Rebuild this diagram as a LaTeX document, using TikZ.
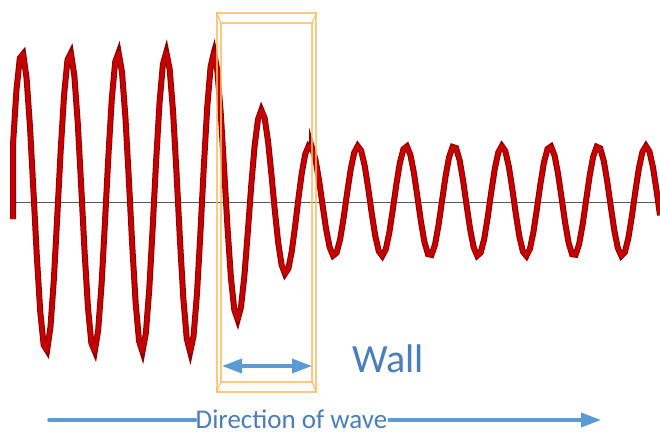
\documentclass[tikz,border=0pt]{standalone}
\usepackage{fontspec}
\setmainfont{Carlito}
\usetikzlibrary{arrows.meta}
\definecolor{wavered}{RGB}{200,0,0}
\definecolor{waveedge}{RGB}{140,0,0}
\definecolor{wallorange}{RGB}{251,188,98}
\definecolor{arrowblue}{RGB}{91,155,213}
\definecolor{textblue}{RGB}{74,126,187}
\tikzset{
  wave/.style={draw=wavered, line width=4pt, line join=round,
    preaction={draw=waveedge, line width=6pt}},
  wallline/.style={draw=wallorange, line width=1.4pt, opacity=0.8},
  bluearrow/.style={draw=arrowblue, line width=3.5pt},
  bluetext/.style={text=textblue, inner sep=0pt},
}

\begin{document}
\begin{tikzpicture}[x=1pt, y=-1pt, >={Triangle[length=20pt,width=14pt]}]
\useasboundingbox[fill=white] (0,0) rectangle (660,432);
% axis
\coordinate (axisstart) at (13,202);
\coordinate (axisend) at (660,202);
\draw[black!65, line width=0.9pt] (axisstart) -- (axisend);
% wave: full, damped inside the wall, then small
\draw[wave] (13,219) -- plot[domain=13:214, samples=60] (\x, {202-150*cos(7.5*(\x-22))})
  -- plot[domain=214:312, samples=30] (\x, {202-150*exp(-0.01024*(\x-214))*cos(7.5*(\x-22))})
  -- plot[domain=312:660, samples=100] (\x, {201-55*cos(7.5*(\x-22))});
% wall
\node[wallline, rectangle, minimum width=99pt, minimum height=379pt, inner sep=0pt] (wall) at (266.5,202.5) {};
\draw[wallline] (221,23) rectangle (312,382);
\draw[wallline] (wall.north west) -- (221,23) (wall.north east) -- (312,23)
  (wall.south west) -- (221,382) (wall.south east) -- (312,382);
\coordinate (wallleft) at (222,366);
\coordinate (wallright) at (312,366);
\draw[bluearrow, <->] (wallleft) -- (wallright);
\node[bluetext, anchor=base west, font=\fontsize{40}{48}\selectfont] (walllabel) at (352,372) {Wall};
% direction
\node[bluetext, anchor=base, font=\fontsize{27}{32}\selectfont] (dirlabel) at (291.5,428) {Direction of wave};
\coordinate (dirstart) at (49,420);
\coordinate (dirend) at (601,420);
\draw[bluearrow, line cap=round] (dirstart) -- (dirlabel.west |- dirstart);
\draw[bluearrow, ->] (dirlabel.east |- dirend) -- (dirend);
\end{tikzpicture}
\end{document}
